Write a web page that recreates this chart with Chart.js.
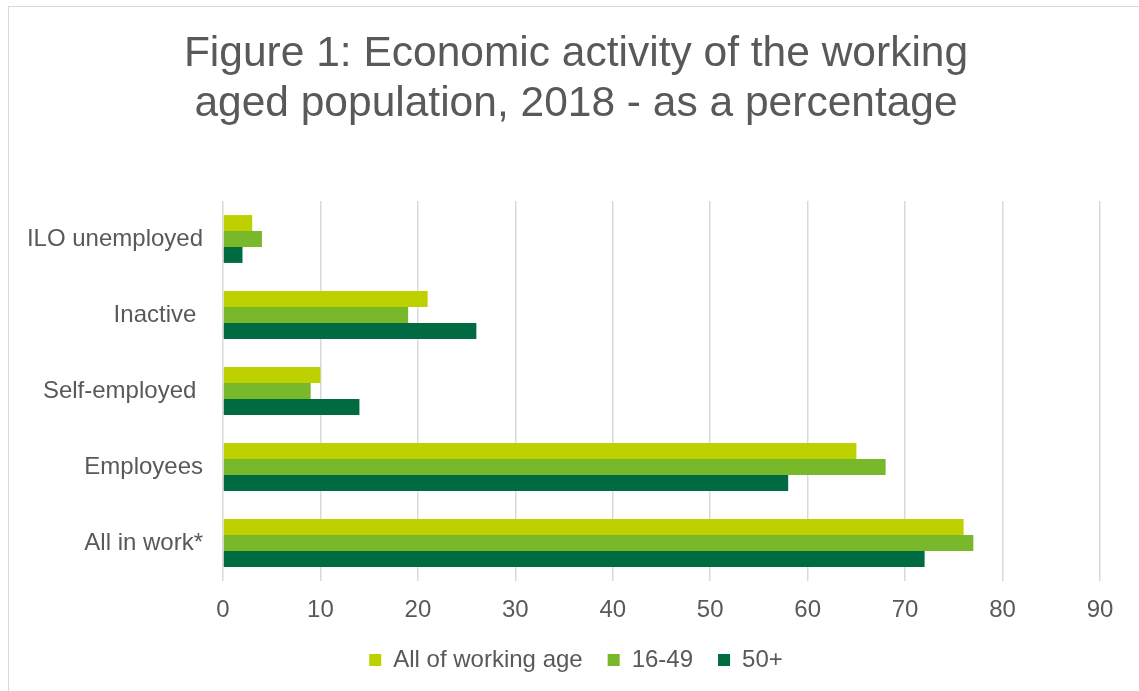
<!DOCTYPE html>
<html>
<head>
<meta charset="utf-8">
<script src="https://cdn.jsdelivr.net/npm/chart.js@4/dist/chart.umd.min.js"></script>
<style>
  html, body { margin: 0; padding: 0; background: #fff; overflow: hidden; }
  #frame {
    position: absolute; left: 8px; top: 6px;
    width: 1140px; height: 700px;
    border-left: 1px solid #d9d9d9; border-top: 1px solid #d9d9d9;
  }
  #chartBox { position: absolute; left: 0; top: 0; width: 1134px; height: 684px; }
</style>
</head>
<body>
<div id="frame"><div id="chartBox"><canvas id="activityChart"></canvas></div></div>
<script>
// economic activity, 2018, % of working aged population
var categories = ["ILO unemployed", "Inactive ", "Self-employed ", "Employees", "All in work*"];
var allWorkingAge = [3, 21, 10, 65, 76];
var age16to49 = [4, 19, 9, 68, 77];
var age50plus = [2, 26, 14, 58, 72];
var xTicks = [0, 10, 20, 30, 40, 50, 60, 70, 80, 90];

var seriesNames = ["All of working age", "16-49", "50+"];
var seriesColors = ["#bdd000", "#78b82a", "#006b40"];

var textColor = "#595959";
var fontFamily = "'Liberation Sans', Arial, sans-serif";

function onLoadChart() {
  var barData = {
    labels: categories,
    datasets: [allWorkingAge, age16to49, age50plus].map(function (vals, i) {
      return {
        label: seriesNames[i],
        data: vals,
        backgroundColor: seriesColors[i],
        borderWidth: 0,
        categoryPercentage: 0.63,
        barPercentage: 1.0
      };
    })
  };

  var barOptions = {
    indexAxis: 'y',
    responsive: true,
    maintainAspectRatio: false,
    animation: false,
    layout: { padding: { left: 0, right: 0, top: 0, bottom: 9 } },
    plugins: {
      title: {
        display: true,
        text: ["Figure 1: Economic activity of the working", "aged population, 2018 - as a percentage"],
        color: textColor,
        font: { family: fontFamily, size: 42.5, weight: 'normal', lineHeight: '50px' },
        padding: { top: 22, bottom: 72 }
      },
      legend: {
        position: 'bottom',
        labels: {
          color: textColor,
          font: { family: fontFamily, size: 24 },
          boxWidth: 12,
          boxHeight: 12,
          padding: 25
        }
      },
      tooltip: { enabled: false }
    },
    scales: {
      x: {
        min: 0,
        max: 90,
        afterBuildTicks: function (axis) {
          axis.ticks = xTicks.map(function (v) { return { value: v }; });
        },
        // tick padding only above the labels, and room on the right of the plot
        afterFit: function (axis) {
          axis.height = 15 + 27;
          axis.paddingRight = 43;
        },
        grid: { color: "#d9d9d9", lineWidth: 1.5, drawTicks: false },
        border: { display: false },
        ticks: {
          color: textColor,
          font: { family: fontFamily, size: 24 },
          padding: 15
        }
      },
      y: {
        grid: { display: false, drawTicks: false },
        border: { display: false },
        afterFit: function (axis) { axis.width = 214; },
        ticks: {
          color: textColor,
          font: { family: fontFamily, size: 24 },
          padding: 20
        }
      }
    }
  };

  new Chart(document.getElementById('activityChart').getContext('2d'), {
    type: 'bar',
    data: barData,
    options: barOptions
  });
}

onLoadChart();
</script>
</body>
</html>
